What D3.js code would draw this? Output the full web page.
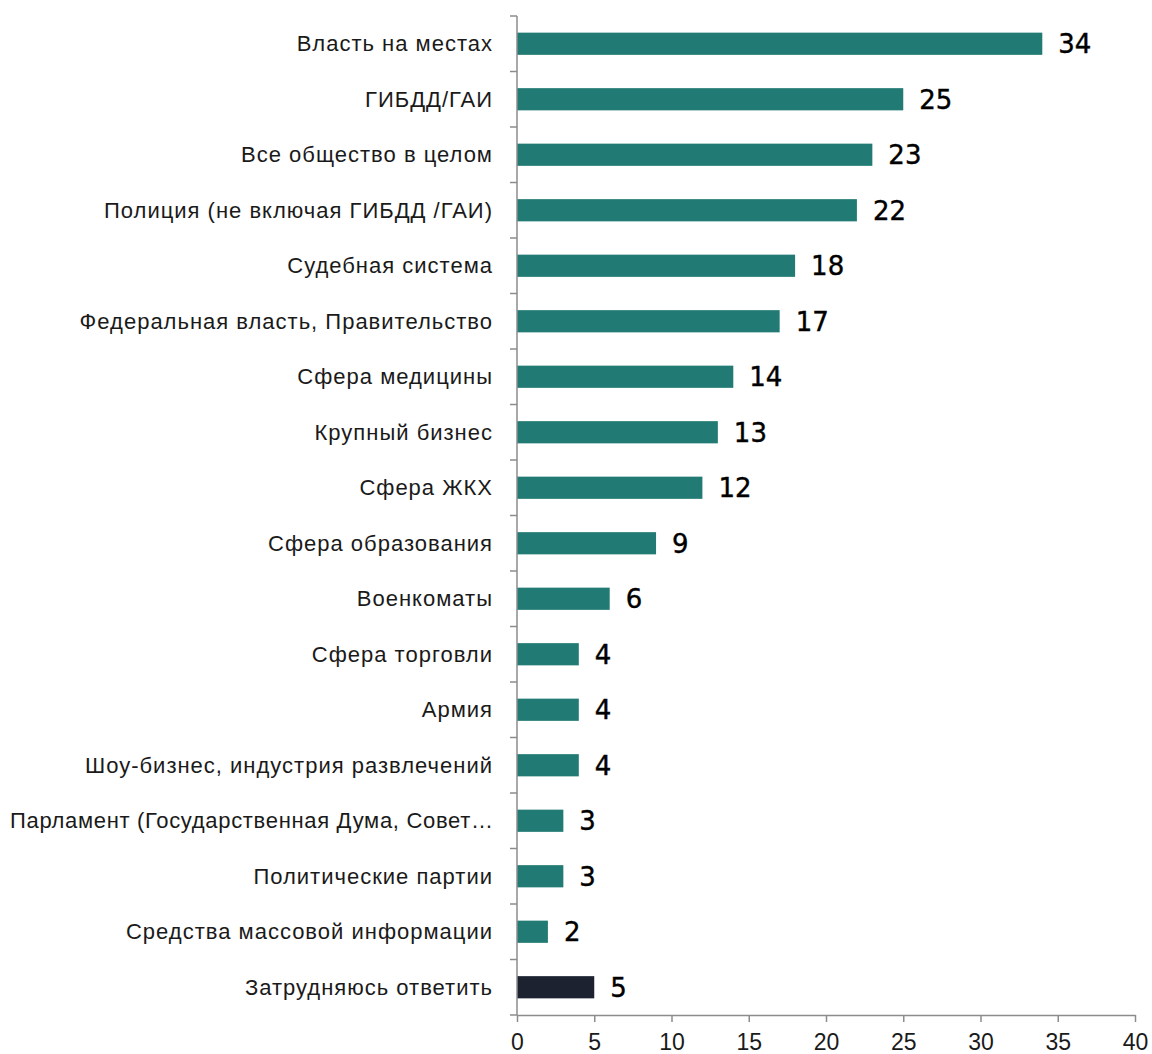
<!DOCTYPE html>
<html>
<head>
<meta charset="utf-8">
<script src="https://cdn.jsdelivr.net/npm/d3@7"></script>
<style>
  body { margin: 0; background: #fff; }
</style>
</head>
<body>
<script>
// categories, top to bottom
const categories = [
  "Власть на местах",
  "ГИБДД/ГАИ",
  "Все общество в целом",
  "Полиция (не включая ГИБДД /ГАИ)",
  "Судебная система",
  "Федеральная власть, Правительство",
  "Сфера медицины",
  "Крупный бизнес",
  "Сфера ЖКХ",
  "Сфера образования",
  "Военкоматы",
  "Сфера торговли",
  "Армия",
  "Шоу-бизнес, индустрия развлечений",
  "Парламент (Государственная Дума, Совет…",
  "Политические партии",
  "Средства массовой информации",
  "Затрудняюсь ответить"
]
const values = [34, 25, 23, 22, 18, 17, 14, 13, 12, 9, 6, 4, 4, 4, 3, 3, 2, 5]
const xTicks = [0, 5, 10, 15, 20, 25, 30, 35, 40]

const width = 1152,
  height = 1054,
  plotLeft = 517,
  plotRight = 1135,
  plotTop = 16,
  plotBottom = 1015

const svg = d3.select("body")
  .append("svg")
  .attr("width", width)
  .attr("height", height)
  .style("display", "block")

const x = d3.scaleLinear()
  .domain([0, 40])
  .range([plotLeft, plotRight])

const y = d3.scaleBand()
  .domain(categories)
  .range([plotTop, plotBottom])
  .paddingInner(0.6)
  .paddingOuter(0.3)

const axisColor = "#8c8c8c"

// bars
svg.selectAll(".bar")
  .data(categories)
  .join("rect")
  .attr("class", "bar")
  .attr("x", x(0))
  .attr("y", d => y(d))
  .attr("width", (d, i) => x(values[i]) - x(0))
  .attr("height", y.bandwidth())
  .attr("fill", (d, i) => i === categories.length - 1 ? "#1c2230" : "#217a73")

// value labels
svg.selectAll(".val")
  .data(categories)
  .join("text")
  .attr("class", "val")
  .attr("x", (d, i) => x(values[i]) + 16)
  .attr("y", d => y(d) + y.bandwidth() / 2)
  .attr("dy", "0.36em")
  .style("font-family", "'DejaVu Sans', sans-serif")
  .style("font-size", "26px")
  .style("fill", "#000")
  .style("stroke", "#000")
  .style("stroke-width", 0.4)
  .text((d, i) => values[i])

// category labels
const labelMax = plotLeft - 24 - 10
svg.selectAll(".cat")
  .data(categories)
  .join("text")
  .attr("class", "cat")
  .attr("x", plotLeft - 24)
  .attr("y", d => y(d) + y.bandwidth() / 2)
  .attr("dy", "0.35em")
  .attr("text-anchor", "end")
  .style("font-family", "'Liberation Sans', Arial, sans-serif")
  .style("font-size", "22px")
  .style("letter-spacing", "1px")
  .style("fill", "#1a1a1a")
  .text(d => d)
  // squeeze the long one so it fits at the left edge
  .each(function () {
    if (this.getComputedTextLength() > labelMax) {
      d3.select(this)
        .style("letter-spacing", "0px")
        .attr("textLength", labelMax)
        .attr("lengthAdjust", "spacing")
    }
  })

// y axis line + ticks between categories
const step = y.step()
const yBounds = d3.range(categories.length + 1).map(i => plotTop + i * step)
svg.append("line")
  .attr("x1", plotLeft).attr("x2", plotLeft)
  .attr("y1", plotTop).attr("y2", plotBottom)
  .attr("stroke", axisColor)
  .attr("stroke-width", 1.5)
svg.selectAll(".ytick")
  .data(yBounds)
  .join("line")
  .attr("class", "ytick")
  .attr("x1", plotLeft - 7).attr("x2", plotLeft)
  .attr("y1", d => d).attr("y2", d => d)
  .attr("stroke", axisColor)
  .attr("stroke-width", 1.5)

// x axis
const xAxis = svg.append("g")
  .attr("transform", `translate(0,${plotBottom})`)
  .call(d3.axisBottom(x).tickValues(xTicks).tickSize(7).tickSizeOuter(0).tickPadding(12))
xAxis.select(".domain").attr("stroke", axisColor).attr("stroke-width", 1.5)
xAxis.selectAll(".tick line").attr("stroke", axisColor).attr("stroke-width", 1.5)
xAxis.selectAll(".tick text")
  .style("font-family", "'Liberation Sans', Arial, sans-serif")
  .style("font-size", "23px")
  .style("fill", "#1a1a1a")
</script>
</body>
</html>
